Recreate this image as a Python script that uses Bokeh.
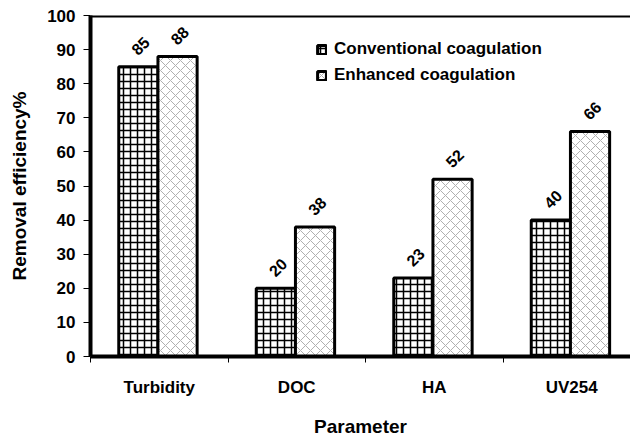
import math
from bokeh.plotting import figure
from bokeh.models import (ColumnDataSource, Range1d, FixedTicker, Span, Legend, LegendItem, Label)
from bokeh.embed import file_html
from bokeh.resources import INLINE

categories = ["Turbidity", "DOC", "HA", "UV254"]
conventional = [85, 20, 23, 40]
enhanced = [88, 38, 52, 66]
series_names = ["Conventional coagulation", "Enhanced coagulation"]
y_ticks = [0, 10, 20, 30, 40, 50, 60, 70, 80, 90, 100]

FONT = "Liberation Sans"
BAR_W = 0.285

idx = list(range(len(categories)))
conv_x = [i + 0.348 for i in idx]
enh_x = [i + 0.633 for i in idx]
conv_src = ColumnDataSource(dict(x=conv_x, top=conventional))
enh_src = ColumnDataSource(dict(x=enh_x, top=enhanced))

p = figure(width=630, height=439, output_backend="svg", toolbar_location=None,
           x_range=Range1d(0, 540 / 137.5), y_range=Range1d(0, 100),
           min_border_left=90, min_border_right=0, min_border_top=15,
           min_border_bottom=82)
p.outline_line_color = None
p.xgrid.visible = False
p.ygrid.visible = False
p.background_fill_color = "white"
p.border_fill_color = "white"

r1 = p.vbar(x="x", top="top", width=BAR_W, bottom=0, source=conv_src,
            fill_color="white", line_color="black", line_width=3,
            hatch_pattern="cross", hatch_color="black", hatch_scale=7,
            hatch_weight=1.5)
r2 = p.vbar(x="x", top="top", width=BAR_W, bottom=0, source=enh_src,
            fill_color="white", line_color="black", line_width=3,
            hatch_pattern="diagonal_cross", hatch_color="#b0b0b0", hatch_scale=10,
            hatch_weight=1)

for xs, vals in ((conv_x, conventional), (enh_x, enhanced)):
    for xv, v in zip(xs, vals):
        p.add_layout(Label(x=xv, y=v, text=str(v), angle=45, angle_units="deg",
                           text_align="center", text_baseline="middle",
                           y_offset=21, x_offset=2, text_font="Liberation Sans",
                           text_font_style="bold", text_font_size="16px",
                           text_color="black"))

# top border line
p.add_layout(Span(location=100, dimension="width", line_color="black", line_width=4))

# y axis
ya = p.yaxis[0]
ya.ticker = FixedTicker(ticks=y_ticks)
ya.axis_line_width = 4
ya.axis_line_color = "black"
ya.major_tick_out = 7
ya.major_tick_in = 0
ya.major_tick_line_color = "black"
ya.minor_tick_line_color = None
ya.major_label_standoff = 8
ya.major_label_text_font = FONT
ya.major_label_text_font_style = "bold"
ya.major_label_text_font_size = "17px"
ya.major_label_text_color = "black"
ya.axis_label = "Removal efficiency%"
ya.axis_label_text_font = FONT
ya.axis_label_text_font_style = "bold"
ya.axis_label_text_font_size = "19px"
ya.axis_label_text_color = "black"
ya.axis_label_standoff = 14

# x axis
xa = p.xaxis[0]
xa.ticker = FixedTicker(ticks=[i + 0.5 for i in idx], minor_ticks=[float(i) for i in idx])
xa.major_label_overrides = {i + 0.5: c for i, c in zip(idx, categories)}
xa.axis_line_width = 4
xa.axis_line_color = "black"
xa.major_tick_line_color = None
xa.major_tick_out = 0
xa.major_tick_in = 0
xa.minor_tick_out = 6
xa.minor_tick_in = 0
xa.minor_tick_line_color = "black"
xa.major_label_standoff = 15
xa.major_label_text_font = FONT
xa.major_label_text_font_style = "bold"
xa.major_label_text_font_size = "17px"
xa.major_label_text_color = "black"
xa.axis_label = "Parameter"
xa.axis_label_text_font = FONT
xa.axis_label_text_font_style = "bold"
xa.axis_label_text_font_size = "19px"
xa.axis_label_text_color = "black"
xa.axis_label_standoff = 16

legend = Legend(items=[LegendItem(label=series_names[0], renderers=[r1]),
                       LegendItem(label=series_names[1], renderers=[r2])],
                location=(226, 271), padding=0, margin=0, spacing=6,
                glyph_width=11, glyph_height=11, label_height=20,
                label_standoff=7, border_line_color=None,
                background_fill_alpha=0,
                label_text_font=FONT, label_text_font_style="bold",
                label_text_font_size="17px", label_text_color="black")
p.add_layout(legend, "center")

open("out.html", "w").write(file_html(p, INLINE))
